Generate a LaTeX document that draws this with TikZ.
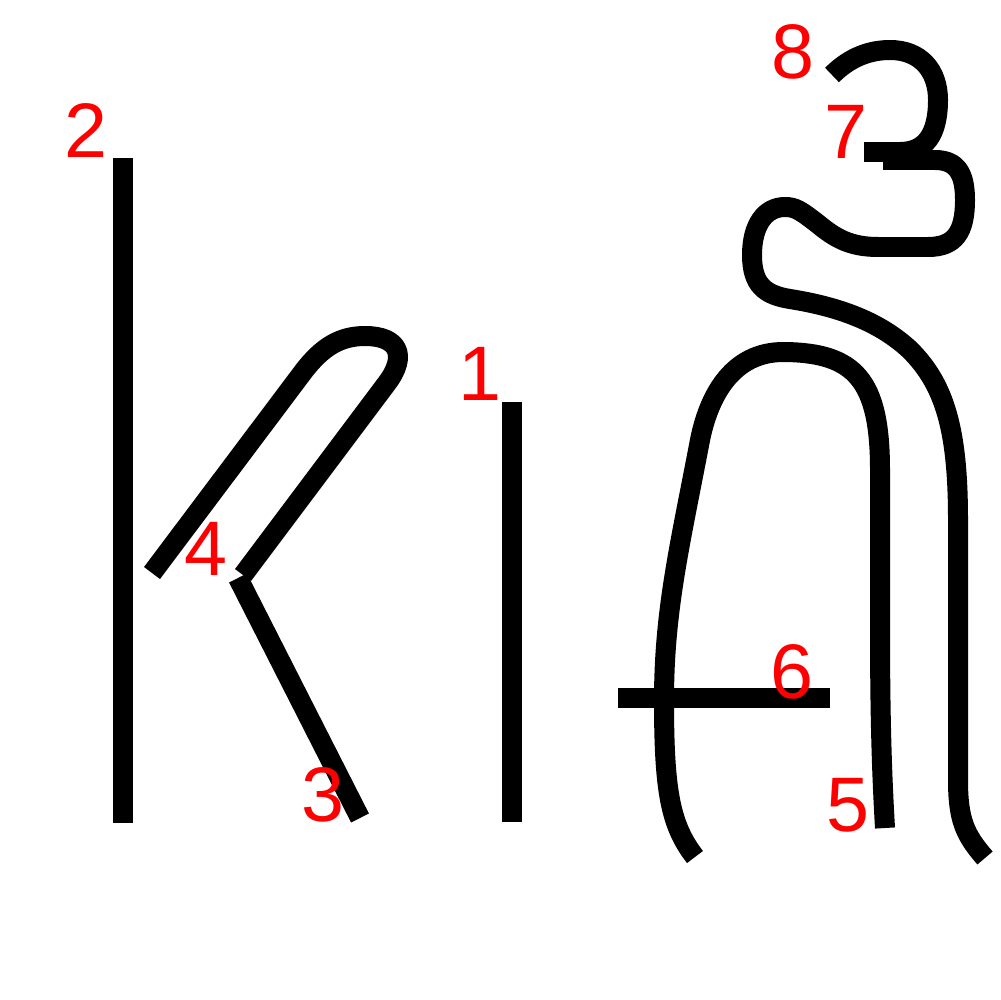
\documentclass[tikz,border=0pt]{standalone}
\usepackage{fontspec}
\setmainfont{Liberation Sans}
\begin{document}
\begin{tikzpicture}[x=0.02cm,y=-0.02cm,
  stroke/.style={line width=0.4cm,line cap=butt,line join=round,black},
  num/.style={text=red,inner sep=0pt,font=\fontsize{44}{44}\selectfont}]
\useasboundingbox (0,0) rectangle (1000,1000);
% stroke 1
\draw[stroke] (512,402) -- (512,822);
% stroke 2
\draw[stroke] (123,158) -- (123,823);
% stroke 3
\draw[stroke] (238,578) -- (360,818);
% stroke 4
\draw[stroke] (152,573) -- (303,372) .. controls (322,347) and (340,336) .. (365,336)
  .. controls (398,336) and (408,355) .. (387,383) -- (243,575);
% stroke 5
\draw[stroke] (885,828) .. controls (881,760) and (880,700) .. (880,620) -- (880,470)
  .. controls (880,380) and (855,353) .. (785,352)
  .. controls (730,351) and (708,400) .. (700,440)
  .. controls (680,545) and (664,610) .. (664,700)
  .. controls (664,790) and (670,825) .. (695,857);
% stroke 6
\draw[stroke] (618,698) -- (830,698);
% stroke 7
\draw[stroke] (883,160) -- (935,160) .. controls (958,160) and (965,175) .. (965,200)
  .. controls (965,232) and (955,247) .. (928,247) -- (878,247)
  .. controls (850,247) and (835,238) .. (818,224)
  .. controls (800,210) and (795,207) .. (785,207)
  .. controls (765,207) and (752,225) .. (752,255)
  .. controls (752,285) and (765,295) .. (790,299)
  .. controls (840,307) and (880,322) .. (910,350)
  .. controls (945,385) and (958,430) .. (958,520) -- (958,780)
  .. controls (958,820) and (965,835) .. (985,858);
% stroke 8
\draw[stroke] (832,75) .. controls (850,57) and (870,50) .. (890,50)
  .. controls (920,50) and (938,70) .. (938,100)
  .. controls (938,135) and (925,152) .. (900,152) -- (864,152);
% labels
\node[num] (n1) at (480,374) {1};
\node[num] (n2) at (86,131) {2};
\node[num] (n3) at (323,795) {3};
\node[num] (n4) at (206,549) {4};
\node[num] (n5) at (848,805) {5};
\node[num] (n6) at (792,672) {6};
\node[num] (n7) at (846,132) {7};
\node[num] (n8) at (793,52) {8};
\end{tikzpicture}
\end{document}
